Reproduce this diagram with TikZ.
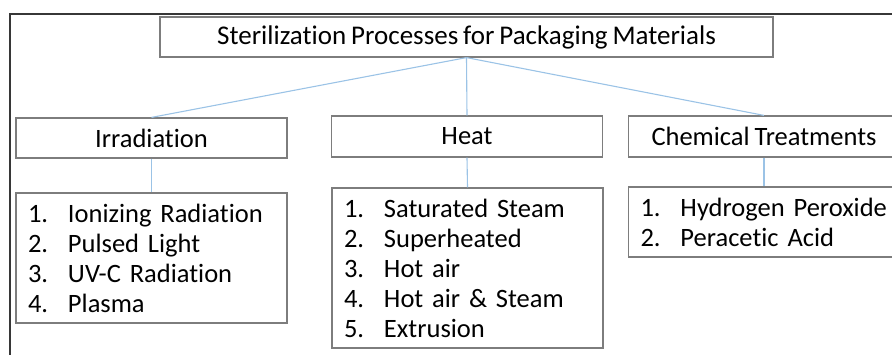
\documentclass[tikz,border=0pt]{standalone}
\usepackage{fontspec}
\setmainfont{Carlito}[Ligatures=NoCommon, WordSpace=0.8]
\usepackage{tikz}
\definecolor{linkblue}{RGB}{155,195,230}
\definecolor{boxgray}{RGB}{125,125,125}
\definecolor{framegray}{RGB}{55,55,55}
\tikzset{
  headbox/.style={draw=boxgray, line width=1.2pt, minimum width=271pt, minimum height=40pt,
    inner sep=0pt, font=\fontsize{26.5}{30}\selectfont},
  listbox/.style={draw=boxgray, line width=1.2pt, text width=247pt, inner xsep=12pt,
    inner ysep=0pt, align=left, font=\fontsize{26.5}{30}\selectfont},
  link/.style={draw=linkblue, line width=1.1pt}
}
\newcommand\listitem[2]{\makebox[40pt][l]{#1}#2}

\begin{document}
\begin{tikzpicture}[x=1pt, y=-1pt]
      \useasboundingbox (0,0) rectangle (892,355);

      % Outer frame (cut off at the page edge)
      \draw[framegray, line width=1.4pt] (10,400) -- (10,14) -- (920,14);

      % Title and the three kinds of process
      \node[headbox, minimum width=613pt, font=\fontsize{27}{30}\selectfont] (title) at (466.5,37) {Sterilization Processes for Packaging Materials};
      \node[headbox] (irr) at (151.5,138) {Irradiation};
      \node[headbox, minimum height=41pt] (heat) at (467,136.5) {Heat};
      \node[headbox, minimum height=41pt] (chem) at (764,136.5) {Chemical Treatments};

      % Lists of methods
      \node[listbox, minimum height=130pt] (irrlist) at (151.5,258) {%
        \listitem{1.}{Ionizing Radiation}\\
        \listitem{2.}{Pulsed Light}\\
        \listitem{3.}{UV-C Radiation}\\
        \listitem{4.}{Plasma}};
      \node[listbox, minimum height=160pt] (heatlist) at (467.5,268) {%
        \listitem{1.}{Saturated Steam}\\
        \listitem{2.}{Superheated}\\
        \listitem{3.}{Hot air}\\
        \listitem{4.}{Hot air \& Steam}\\
        \listitem{5.}{Extrusion}};
      \node[listbox, minimum height=70pt] (chemlist) at (764,222) {%
        \listitem{1.}{Hydrogen Peroxide}\\
        \listitem{2.}{Peracetic Acid}};

      % Connectors
      \draw[link] (title.south) -- (irr.north);
      \draw[link] (title.south) -- (heat.north);
      \draw[link] (title.south) -- (chem.north);
      \draw[link] (irr.south) -- (irrlist.north);
      \draw[link] (heat.south) -- (heatlist.north);
      \draw[link] (chem.south) -- (chemlist.north);
    \end{tikzpicture}
\end{document}
